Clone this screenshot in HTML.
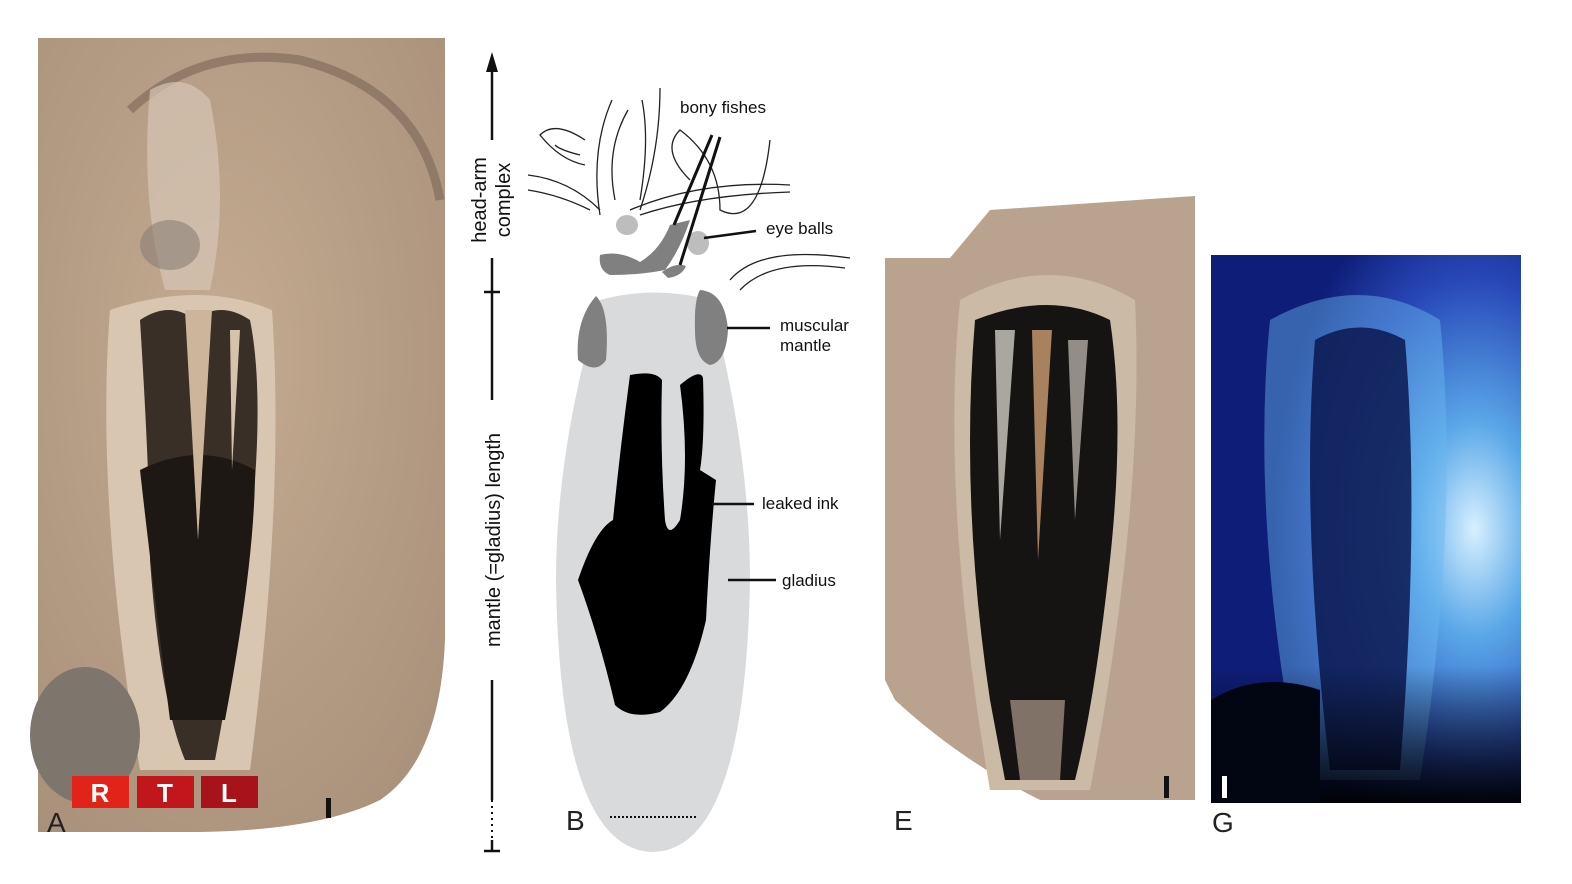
<!DOCTYPE html>
<html><head><meta charset="utf-8"><style>
html,body{margin:0;padding:0;background:#fff;width:1572px;height:884px;overflow:hidden}
svg{display:block}
text{font-family:"Liberation Sans",Arial,sans-serif}
</style></head><body>
<svg width="1572" height="884" viewBox="0 0 1572 884" xmlns="http://www.w3.org/2000/svg">
<defs>
<radialGradient id="gA" cx="0.45" cy="0.4" r="0.75"><stop offset="0" stop-color="#c4ab91"/><stop offset="1" stop-color="#a8907a"/></radialGradient>
<radialGradient id="gG" cx="0.85" cy="0.5" r="0.65"><stop offset="0" stop-color="#d8f0ff"/><stop offset="0.3" stop-color="#5aa8e8"/><stop offset="0.7" stop-color="#2848b8"/><stop offset="1" stop-color="#0e1e78"/></radialGradient>
<linearGradient id="gGb" x1="0" y1="0" x2="0" y2="1"><stop offset="0.75" stop-color="#000" stop-opacity="0"/><stop offset="1" stop-color="#000" stop-opacity="0.95"/></linearGradient>
</defs>
<!-- Panel A -->
<path d="M38 38 L445 38 L445 640 Q440 760 380 800 Q320 830 200 832 L38 832 Z" fill="url(#gA)"/>
<path d="M130 110 Q200 45 300 60 Q420 90 440 200" stroke="#7a6656" stroke-width="9" fill="none" opacity="0.6"/>
<path d="M110 310 Q95 500 140 770 L250 770 Q285 500 272 310 Q200 280 110 310Z" fill="#d8c6b0"/>
<path d="M140 320 Q150 480 150 560 Q160 700 185 760 L215 760 Q245 600 255 480 Q262 380 250 320 Q220 300 195 320 Q170 300 140 320Z" fill="#3a2f27"/>
<path d="M140 470 Q150 560 170 720 L225 720 Q255 560 255 470 Q200 440 140 470Z" fill="#1e1814"/>
<path d="M185 310 L198 540 L212 310Z" fill="#cdb59b"/>
<path d="M230 330 L232 470 L240 330Z" fill="#d6c3ae"/>
<path d="M150 90 Q185 70 210 100 Q230 200 210 290 L165 290 Q140 200 150 90Z" fill="#d5c6b6" opacity="0.7"/>
<ellipse cx="170" cy="245" rx="30" ry="25" fill="#8a7e76" opacity="0.6"/>
<ellipse cx="85" cy="735" rx="55" ry="68" fill="#7e756d"/>
<rect x="72" y="776" width="57" height="32" fill="#e2231a"/>
<rect x="137" y="776" width="57" height="32" fill="#c0161c"/>
<rect x="201" y="776" width="57" height="32" fill="#a8121a"/>
<text x="100" y="802" fill="#fff" font-size="26" font-weight="bold" text-anchor="middle">R</text>
<text x="165" y="802" fill="#fff" font-size="26" font-weight="bold" text-anchor="middle">T</text>
<text x="229" y="802" fill="#fff" font-size="26" font-weight="bold" text-anchor="middle">L</text>
<rect x="326" y="798" width="5" height="20" fill="#111"/>
<text x="47" y="832" font-size="28" fill="#222">A</text>
<!-- Panel B -->
<line x1="492" y1="62" x2="492" y2="852" stroke="#111" stroke-width="2.5"/>
<polygon points="492,52 486,72 498,72" fill="#111"/>
<line x1="484" y1="292" x2="500" y2="292" stroke="#111" stroke-width="2.5"/>
<line x1="484" y1="851" x2="500" y2="851" stroke="#111" stroke-width="2.5"/>
<rect x="468" y="140" width="48" height="118" fill="#fff"/>
<text transform="translate(486,200) rotate(-90)" font-size="20" text-anchor="middle" fill="#111">head-arm</text>
<text transform="translate(510,200) rotate(-90)" font-size="20" text-anchor="middle" fill="#111">complex</text>
<rect x="480" y="400" width="24" height="280" fill="#fff"/>
<text transform="translate(500,540) rotate(-90)" font-size="20" text-anchor="middle" fill="#111">mantle (=gladius) length</text>
<rect x="480" y="800" width="24" height="40" fill="#fff"/>
<line x1="492" y1="800" x2="492" y2="840" stroke="#111" stroke-width="2" stroke-dasharray="2,4"/>
<path d="M600 300 Q655 285 710 300 Q750 450 750 580 Q745 850 653 852 Q560 850 556 580 Q556 450 600 300Z" fill="#d9dadc"/>
<path d="M596 296 Q610 310 606 360 Q596 375 578 360 Q575 320 596 296Z" fill="#808080"/>
<path d="M700 290 Q725 292 728 330 Q726 362 710 365 Q695 360 695 330 Q694 300 700 290Z" fill="#808080"/>
<path d="M630 375 Q655 370 662 380 Q660 450 665 520 Q668 540 680 520 Q690 460 680 385 Q700 368 703 378 Q705 440 700 470 L716 480 Q710 540 706 620 Q690 690 660 712 Q630 720 615 705 Q600 640 578 580 Q595 530 613 520 Q620 450 630 375Z" fill="#000"/>
<g stroke="#222" stroke-width="1.3" fill="none">
<path d="M600 215 Q590 150 612 100"/><path d="M615 200 Q605 150 628 110"/><path d="M640 200 Q650 140 642 100"/><path d="M640 210 Q660 150 660 88"/>
<path d="M585 140 Q555 120 540 135 Q560 160 585 165"/><path d="M580 155 Q560 150 555 145"/>
<path d="M528 175 Q570 180 600 210"/><path d="M528 190 Q560 195 590 210"/>
<path d="M630 210 Q700 180 790 185"/><path d="M640 215 Q700 195 790 192"/>
<path d="M690 180 Q660 150 680 130 Q720 160 720 210 Q760 230 770 140"/>
<path d="M730 280 Q760 245 850 258"/><path d="M740 290 Q770 258 845 268"/>
</g>
<ellipse cx="627" cy="225" rx="11" ry="10" fill="#bdbdbd"/>
<ellipse cx="698" cy="243" rx="11" ry="12" fill="#bdbdbd"/>
<path d="M600 255 Q620 250 640 262 Q660 250 670 225 L690 220 Q680 250 665 270 Q640 275 610 275 Q598 270 600 255Z" fill="#808080"/>
<path d="M662 272 Q675 262 686 266 Q682 276 668 278Z" fill="#808080"/>
<line x1="674" y1="225" x2="712" y2="135" stroke="#111" stroke-width="3"/>
<line x1="680" y1="265" x2="720" y2="137" stroke="#111" stroke-width="3"/>
<text x="680" y="113" font-size="17" fill="#111">bony fishes</text>
<line x1="704" y1="238" x2="756" y2="231" stroke="#111" stroke-width="2.5"/>
<text x="766" y="234" font-size="17" fill="#111">eye balls</text>
<line x1="727" y1="328" x2="770" y2="328" stroke="#111" stroke-width="2.5"/>
<text x="780" y="331" font-size="17" fill="#111">muscular</text>
<text x="780" y="351" font-size="17" fill="#111">mantle</text>
<line x1="712" y1="504" x2="754" y2="504" stroke="#111" stroke-width="2.5"/>
<text x="762" y="509" font-size="17" fill="#111">leaked ink</text>
<line x1="728" y1="580" x2="776" y2="580" stroke="#111" stroke-width="2.5"/>
<text x="782" y="586" font-size="17" fill="#111">gladius</text>
<line x1="610" y1="817" x2="698" y2="817" stroke="#111" stroke-width="2" stroke-dasharray="2,2"/>
<text x="566" y="830" font-size="28" fill="#222">B</text>
<!-- Panel E -->
<path d="M885 258 L950 258 L990 210 L1195 196 L1195 800 L1040 800 Q960 760 895 700 L885 680Z" fill="#b9a38e"/>
<path d="M960 300 Q940 500 990 790 L1090 790 Q1145 500 1135 300 Q1050 250 960 300Z" fill="#cbbaa6"/>
<path d="M975 320 Q960 500 990 700 L1005 780 L1075 780 Q1095 700 1110 560 Q1125 420 1110 320 Q1050 290 975 320Z" fill="#161412"/>
<path d="M1032 330 L1038 560 L1052 330Z" fill="#a8825f"/>
<path d="M995 330 L1000 540 L1015 330Z" fill="#d0cac4" opacity="0.8"/>
<path d="M1068 340 L1075 520 L1088 340Z" fill="#c8c0b8" opacity="0.7"/>
<path d="M1010 700 L1020 780 L1060 780 L1065 700Z" fill="#c8b0a0" opacity="0.6"/>
<rect x="1164" y="776" width="5" height="22" fill="#111"/>
<text x="894" y="830" font-size="28" fill="#222">E</text>
<!-- Panel G -->
<rect x="1211" y="255" width="310" height="548" fill="url(#gG)"/>
<path d="M1270 320 Q1250 520 1300 780 L1420 780 Q1460 520 1440 320 Q1360 270 1270 320Z" fill="#6ab8f0" opacity="0.45"/>
<path d="M1315 340 Q1300 520 1330 770 L1400 770 Q1420 520 1405 340 Q1360 315 1315 340Z" fill="#0a1850" opacity="0.85"/>
<rect x="1211" y="255" width="310" height="548" fill="url(#gGb)"/>
<path d="M1211 700 Q1260 670 1320 690 L1320 803 L1211 803Z" fill="#020512"/>
<rect x="1222" y="776" width="5" height="22" fill="#fff"/>
<text x="1212" y="832" font-size="28" fill="#222">G</text>
</svg>
</body></html>
